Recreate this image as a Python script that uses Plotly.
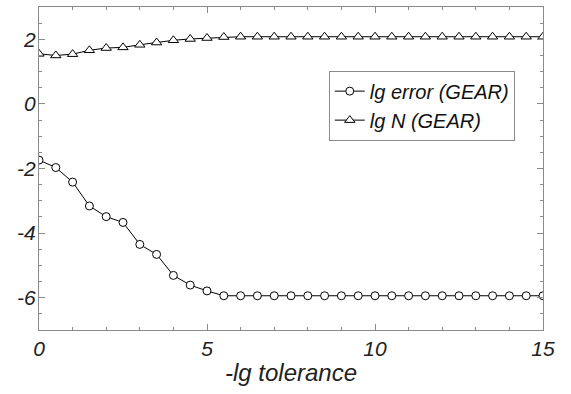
import plotly.graph_objects as go

x_vals = [i * 0.5 for i in range(31)]
lg_error = [-1.74, -1.97, -2.42, -3.16, -3.49, -3.67, -4.35, -4.66, -5.31, -5.61, -5.79,
            -5.94, -5.94, -5.94, -5.94, -5.94, -5.94, -5.94, -5.94, -5.94, -5.94,
            -5.94, -5.94, -5.94, -5.94, -5.94, -5.94, -5.94, -5.94, -5.94, -5.94]
lg_n = [1.55, 1.50, 1.54, 1.66, 1.73, 1.75, 1.83, 1.90, 1.97, 2.01, 2.04,
        2.07, 2.08, 2.08, 2.08, 2.08, 2.08, 2.08, 2.08, 2.08, 2.08,
        2.08, 2.08, 2.08, 2.08, 2.08, 2.08, 2.08, 2.08, 2.08, 2.08]
names = ["lg error (GEAR)", "lg N (GEAR)"]
x_ticks = [0, 5, 10, 15]
x_ticktext = ["0", "5", "10", "15"]
y_ticks = [-6, -4, -2, 0, 2]
y_ticktext = ["-6", "-4", "-2", "0", "2"]

FONT = "Arial, Liberation Sans, sans-serif"

fig = go.Figure()
fig.add_trace(go.Scatter(x=x_vals, y=lg_error, mode="lines+markers", name=names[0],
                         line=dict(color="black", width=1),
                         marker=dict(symbol="circle", size=8, color="white",
                                     line=dict(color="black", width=1))))
fig.add_trace(go.Scatter(x=x_vals, y=lg_n, mode="lines+markers", name=names[1],
                         line=dict(color="black", width=1),
                         marker=dict(symbol="triangle-up", size=9, color="white",
                                     line=dict(color="black", width=1))))

axis_common = dict(showline=True, linecolor="#8a8a8a", linewidth=1, mirror="ticks",
                   ticks="inside", ticklen=6, tickcolor="#8a8a8a", showgrid=False,
                   zeroline=False,
                   tickfont=dict(family=FONT, size=21, color="#222", style="italic"))

fig.update_layout(
    width=571, height=394,
    margin=dict(l=39, r=28, t=7, b=64),
    plot_bgcolor="white", paper_bgcolor="white",
    showlegend=True,
    legend=dict(x=0.944, y=0.803, xanchor="right", yanchor="top",
                bgcolor="white", bordercolor="#8a8a8a", borderwidth=1,
                font=dict(family=FONT, size=20, color="#111", style="italic"),
                tracegroupgap=0, itemwidth=30),
    xaxis=dict(range=[0, 15], tickvals=x_ticks, ticktext=x_ticktext,
               minor=dict(dtick=1, ticks="inside", ticklen=3, tickcolor="#8a8a8a"),
               title=dict(text="-lg tolerance", standoff=4,
                          font=dict(family=FONT, size=24, color="#222", style="italic")),
               **axis_common),
    yaxis=dict(range=[-7, 3], tickvals=y_ticks, ticktext=y_ticktext,
               minor=dict(dtick=0.5, ticks="inside", ticklen=3, tickcolor="#8a8a8a"),
               ticklabelstandoff=-2,
               **axis_common),
)

fig.write_html("out.html")
